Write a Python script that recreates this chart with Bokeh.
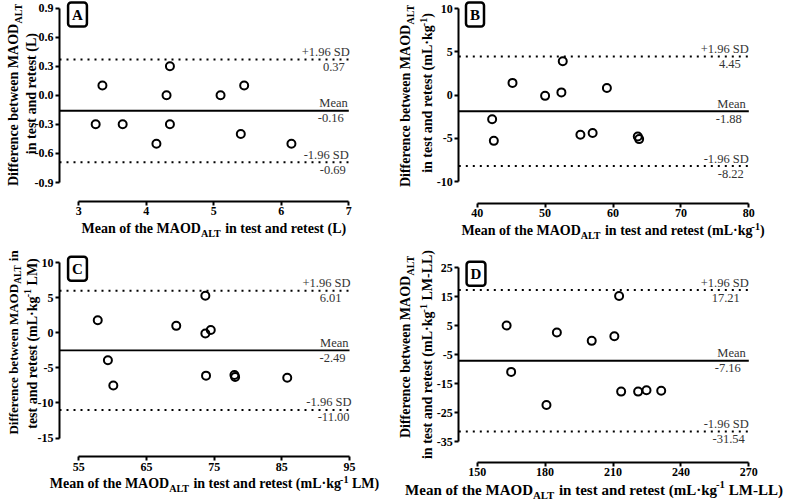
import math
from bokeh.plotting import figure
from bokeh.models import Label, FixedTicker, NumeralTickFormatter
from bokeh.layouts import row, column
from bokeh.embed import file_html
from bokeh.resources import INLINE

# ---------------- data ----------------
a_x = [3.25, 3.35, 3.65, 4.15, 4.30, 4.35, 4.35, 5.10, 5.40, 5.45, 6.15]
a_y = [-0.30, 0.10, -0.30, -0.50, 0.00, 0.30, -0.30, 0.00, -0.40, 0.10, -0.50]
a_lines = [0.37, -0.16, -0.69]
a_xticks = [3, 4, 5, 6, 7]
a_yticks = [-0.9, -0.6, -0.3, 0.0, 0.3, 0.6, 0.9]

b_x = [42.2, 42.45, 45.2, 50.0, 52.4, 52.6, 55.2, 57.0, 59.1, 63.65, 63.85]
b_y = [-2.8, -5.3, 1.4, -0.1, 0.3, 3.9, -4.6, -4.4, 0.8, -4.8, -5.1]
b_lines = [4.45, -1.88, -8.22]
b_xticks = [40, 50, 60, 70, 80]
b_yticks = [-10, -5, 0, 5, 10]

c_x = [57.8, 59.3, 60.1, 69.4, 73.7, 73.7, 74.5, 73.8, 78.0, 78.1, 85.8]
c_y = [1.8, -3.9, -7.5, 1.0, 5.3, -0.1, 0.4, -6.1, -6.0, -6.3, -6.4]
c_lines = [6.01, -2.49, -11.00]
c_xticks = [55, 65, 75, 85, 95]
c_yticks = [-15, -10, -5, 0, 5, 10]

d_x = [163.0, 165.0, 180.6, 185.2, 200.6, 210.6, 212.7, 213.6, 221.1, 224.8, 231.3]
d_y = [5.0, -11.0, -22.4, 2.6, -0.3, 1.3, 15.2, -17.8, -17.8, -17.3, -17.5]
d_lines = [17.21, -7.16, -31.54]
d_xticks = [150, 180, 210, 240, 270]
d_yticks = [-35, -25, -15, -5, 5, 15, 25]

line_names = ["+1.96 SD", "Mean", "-1.96 SD"]

FONT = "Liberation Serif"
TB = {' ': 250, '(': 333, ')': 333, '-': 333, '.': 250, '\u00b7': 250,
      'A': 722, 'B': 667, 'C': 722, 'D': 722, 'E': 667, 'F': 611, 'G': 778, 'H': 778,
      'I': 389, 'J': 500, 'K': 778, 'L': 667, 'M': 944, 'N': 722, 'O': 778, 'P': 611,
      'Q': 778, 'R': 722, 'S': 556, 'T': 667, 'U': 722, 'V': 722, 'W': 1000, 'X': 722,
      'Y': 722, 'Z': 667, 'a': 500, 'b': 556, 'c': 444, 'd': 556, 'e': 444, 'f': 333,
      'g': 500, 'h': 556, 'i': 278, 'j': 333, 'k': 556, 'l': 278, 'm': 833, 'n': 556,
      'o': 500, 'p': 556, 'q': 556, 'r': 444, 's': 389, 't': 333, 'u': 556, 'v': 500,
      'w': 722, 'x': 500, 'y': 500, 'z': 444}

SUB_SHIFT = 5.0
SUP_SHIFT = -4.5


def tw(s, size):
    return sum(TB.get(ch, 500) for ch in s) * size / 1000.0


def add_text(p, x, y, txt, size, angle=0.0):
    p.add_layout(Label(x=x, y=y, text=txt, angle=angle, text_align="left",
                       text_baseline="middle", text_font=FONT,
                       text_font_style="bold", text_font_size="%.1fpx" % size,
                       text_color="black"))


def pieces_layout(pieces, fs):
    items = []
    total = 0.0
    for txt, kind in pieces:
        size = fs if kind == "n" else fs * 0.72
        w = tw(txt, size)
        items.append((txt, kind, size, w))
        total += w
    return items, total


def shift_of(kind, fs):
    if kind == "sub":
        return SUB_SHIFT * fs / 14.0
    if kind == "sup":
        return SUP_SHIFT * fs / 14.0
    return 0.0


def hlabel(p, pieces, cx, cy, fs, dx, dy):
    items, total = pieces_layout(pieces, fs)
    x = cx - total / 2
    for txt, kind, size, w in items:
        lead = len(txt) - len(txt.lstrip(" "))
        xs = x + tw(" " * lead, size)
        add_text(p, dx(xs), dy(cy + shift_of(kind, fs)), txt.strip(" "), size)
        x += w


def vlabel(p, pieces, cx, cy, fs, dx, dy):
    items, total = pieces_layout(pieces, fs)
    y = cy + total / 2
    for txt, kind, size, w in items:
        lead = len(txt) - len(txt.lstrip(" "))
        ys = y - tw(" " * lead, size)
        add_text(p, dx(cx + shift_of(kind, fs)), dy(ys), txt.strip(" "), size, angle=math.pi / 2)
        y -= w


MX = [("Mean of the MAOD", "n"), ("ALT", "sub")]
DY = [("Difference between MAOD", "n"), ("ALT", "sub")]
UNIT = [(" in test and retest (mL\u00b7kg", "n"), ("-1", "sup")]

panels = [
    dict(letter="A", xs=a_x, ys=a_y, lines=a_lines, xt=a_xticks, yt=a_yticks, yfmt="0.0",
         fig=(0, 0, 390, 248), geom=(59, 78.3, 348.3, 7.5, 182, 200.7),
         box=(77, 14), lab_dx=[1, -1, 0], val_dx=[-4, -5, -3],
         xlab=MX + [(" in test and retest (L)", "n")], xl=(213.5, 228, 14),
         y1=DY, y1p=(13, 94, 14), y2=[("in test and retest (L)", "n")], y2p=(31, 93, 14)),
    dict(letter="B", xs=b_x, ys=b_y, lines=b_lines, xt=b_xticks, yt=b_yticks, yfmt="0",
         fig=(390, 0, 396, 248), geom=(458.3, 476.7, 748.3, 8, 181, 202.7),
         box=(474.5, 14), lab_dx=[0, -3, 0], val_dx=[-8, -7, -5],
         xlab=MX + UNIT + [(")", "n")], xl=(612.5, 230, 14),
         y1=DY, y1p=(405, 95, 14),
         y2=[("in test and retest (mL\u00b7kg", "n"), ("-1", "sup"), (")", "n")], y2p=(427, 92.5, 14)),
    dict(letter="C", xs=c_x, ys=c_y, lines=c_lines, xt=c_xticks, yt=c_yticks, yfmt="0",
         fig=(0, 248, 390, 252), geom=(59, 78.3, 349, 262.3, 437.5, 456),
         box=(77, 268.3), lab_dx=[1, -1, 2], val_dx=[-8, -4, 0],
         xlab=MX + UNIT + [(" LM)", "n")], xl=(214, 483.3, 14),
         y1=DY + [(" in", "n")], y1p=(13, 342, 13),
         y2=[("test and retest (mL\u00b7kg", "n"), ("-1", "sup"), (" LM)", "n")], y2p=(31.5, 343, 14)),
    dict(letter="D", xs=d_x, ys=d_y, lines=d_lines, xt=d_xticks, yt=d_yticks, yfmt="0",
         fig=(390, 248, 396, 252), geom=(458.3, 476.7, 748.3, 267, 441, 461.7),
         box=(475.5, 273.3), lab_dx=[0, -3, 0], val_dx=[-9, -8, -4],
         xlab=MX + UNIT + [(" LM-LL)", "n")], xl=(593.5, 489, 15),
         y1=DY, y1p=(405, 346, 14),
         y2=[("in test and retest (mL\u00b7kg", "n"), ("-1", "sup"), (" LM-LL)", "n")], y2p=(427, 354, 14)),
]


def make_panel(s):
    fx, fy, w, h = s["fig"]
    yax, x0p, x1p, ytp, ybp, xayp = s["geom"]
    L = yax - fx
    R = x1p - fx
    T = ytp - fy
    B = xayp - fy
    p0 = x0p - fx
    pb = ybp - fy
    xmin, xmax = min(s["xt"]), max(s["xt"])
    ymin, ymax = min(s["yt"]), max(s["yt"])
    xpp = (xmax - xmin) / (R - p0)
    ypp = (ymax - ymin) / (pb - T)

    def dx(px):
        return xmax + (px - R) * xpp

    def dy(py):
        return ymax - (py - T) * ypp

    p = figure(width=w, height=h, x_range=(dx(0), dx(w)), y_range=(dy(h), dy(0)),
               output_backend="svg", toolbar_location=None,
               min_border_left=0, min_border_right=0,
               min_border_top=0, min_border_bottom=0)
    p.outline_line_color = None
    p.xgrid.visible = False
    p.ygrid.visible = False
    p.background_fill_color = "white"
    p.border_fill_color = "white"

    p.xaxis[0].fixed_location = dy(B)
    p.yaxis[0].fixed_location = dx(L)
    for ax, ticks, fmt in ((p.xaxis[0], s["xt"], "0"), (p.yaxis[0], s["yt"], s["yfmt"])):
        ax.ticker = FixedTicker(ticks=ticks)
        ax.formatter = NumeralTickFormatter(format=fmt)
        ax.bounds = (min(ticks), max(ticks))
        ax.axis_line_width = 2
        ax.axis_line_color = "black"
        ax.major_tick_line_width = 2
        ax.major_tick_line_color = "black"
        ax.major_tick_out = 4
        ax.major_tick_in = 0
        ax.minor_tick_line_color = None
        ax.major_label_standoff = 2
        ax.major_label_text_font = FONT
        ax.major_label_text_font_style = "bold"
        ax.major_label_text_font_size = "12px"
        ax.major_label_text_color = "black"

    x_left = dx(L)
    for i, v in enumerate(s["lines"]):
        p.segment(x0=[x_left], y0=[v], x1=[xmax], y1=[v], line_color="black",
                  line_width=1.8 if i == 1 else 2,
                  line_dash="solid" if i == 1 else "2 5")
        py_line = T + (ymax - v) / ypp
        p.add_layout(Label(x=dx(R + s["lab_dx"][i]), y=dy(py_line - 7.5), text=line_names[i],
                           text_align="right", text_baseline="middle", text_font=FONT,
                           text_font_size="12.5px", text_color="#333333"))
        p.add_layout(Label(x=dx(R + s["val_dx"][i]), y=dy(py_line + 7.5), text="%.2f" % v,
                           text_align="right", text_baseline="middle", text_font=FONT,
                           text_font_size="12.5px", text_color="#333333"))

    p.scatter(s["xs"], s["ys"], marker="circle", size=8, fill_color=None,
              line_color="black", line_width=2)

    bx = s["box"][0] - fx
    by = max(s["box"][1] - fy, 13)
    p.add_layout(Label(x=dx(bx), y=dy(by), text=s["letter"], text_align="center",
                       text_baseline="middle", text_font=FONT, text_font_style="bold",
                       text_font_size="15px", text_color="black",
                       border_line_color="black", border_line_width=2.5,
                       background_fill_color="white", padding=4, border_radius=3))

    cx, cy, fs = s["xl"]
    hlabel(p, s["xlab"], cx - fx, cy - fy, fs, dx, dy)
    cx1, cy1, fs1 = s["y1p"]
    vlabel(p, s["y1"], cx1 - fx, cy1 - fy, fs1, dx, dy)
    cx2, cy2, fs2 = s["y2p"]
    vlabel(p, s["y2"], cx2 - fx, cy2 - fy, fs2, dx, dy)
    return p


figs = [make_panel(s) for s in panels]
layout = column(row(figs[0], figs[1]), row(figs[2], figs[3]))

open("out.html", "w").write(file_html(layout, INLINE))
